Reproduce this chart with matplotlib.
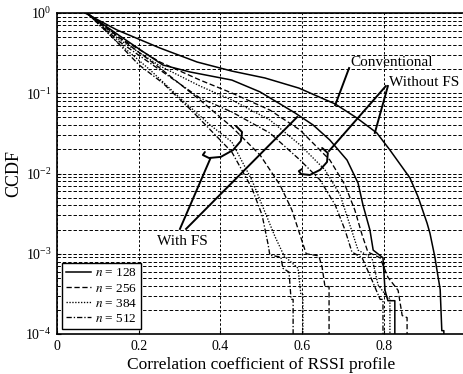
import matplotlib
matplotlib.use("Agg")
import matplotlib.pyplot as plt
from matplotlib.ticker import FixedLocator, LogLocator, NullFormatter

plt.rcParams["font.family"] = ["Liberation Serif", "DejaVu Serif"]
plt.rcParams["mathtext.fontset"] = "stix"

# Conventional (= Without FS, n = 128)
conv_x = [0.0685, 0.147, 0.252, 0.343, 0.428, 0.509, 0.592, 0.681, 0.734, 0.783,
          0.815, 0.864, 0.884, 0.906, 0.913, 0.925, 0.933, 0.938, 0.942, 0.947, 0.947]
conv_y = [1.0, 0.614, 0.366, 0.245, 0.189, 0.155, 0.116, 0.0735, 0.0492, 0.032,
          0.0196, 0.0088, 0.0051, 0.0024, 0.0018, 0.00091, 0.00051, 0.00036, 0.00011, 0.00011, 0.00005]

# With FS, n = 128
w128_x = [0.073, 0.154, 0.259, 0.326, 0.428, 0.497, 0.583, 0.627, 0.668, 0.710, 0.737,
          0.749, 0.766, 0.774, 0.798, 0.803, 0.810, 0.827, 0.827]
w128_y = [1.0, 0.517, 0.225, 0.184, 0.146, 0.104, 0.0567, 0.0402, 0.0261, 0.0147, 0.0076,
          0.00405, 0.00198, 0.00111, 0.00089, 0.00035, 0.00026, 0.00026, 0.00005]

# Without FS, n = 256 / 384 / 512
wo256_x = [0.073, 0.154, 0.252, 0.350, 0.428, 0.521, 0.595, 0.668, 0.705, 0.729, 0.747,
           0.761, 0.791, 0.810, 0.835, 0.845, 0.857, 0.857]
wo256_y = [1.0, 0.488, 0.245, 0.146, 0.1007, 0.0618, 0.0348, 0.0147, 0.00719, 0.00351, 0.00171,
           0.00105, 0.00089, 0.00051, 0.00035, 0.00017, 0.00016, 0.00005]
wo384_x = [0.073, 0.154, 0.252, 0.350, 0.428, 0.521, 0.595, 0.656, 0.693, 0.717, 0.737,
           0.771, 0.786, 0.810, 0.815, 0.815]
wo384_y = [1.0, 0.461, 0.219, 0.123, 0.0824, 0.0465, 0.0227, 0.0111, 0.0054, 0.00228, 0.00111,
           0.00089, 0.00041, 0.00028, 0.00028, 0.00005]
wo512_x = [0.073, 0.154, 0.252, 0.350, 0.428, 0.521, 0.595, 0.644, 0.681, 0.705, 0.722,
           0.747, 0.771, 0.791, 0.798, 0.798]
wo512_y = [1.0, 0.435, 0.195, 0.0873, 0.0584, 0.0320, 0.0147, 0.0083, 0.00405, 0.00198, 0.00105,
           0.00089, 0.00047, 0.00027, 0.00027, 0.00005]

# With FS, n = 256 / 384 / 512
w256_x = [0.073, 0.154, 0.252, 0.350, 0.428, 0.497, 0.546, 0.575, 0.595, 0.610, 0.641,
          0.649, 0.656, 0.666, 0.666]
w256_y = [1.0, 0.488, 0.206, 0.0824, 0.038, 0.017, 0.00719, 0.00351, 0.00171, 0.001, 0.00094,
          0.00068, 0.00039, 0.00039, 0.00005]
w384_x = [0.073, 0.142, 0.228, 0.301, 0.375, 0.428, 0.477, 0.509, 0.534, 0.556, 0.590,
          0.597, 0.602, 0.602]
w384_y = [1.0, 0.461, 0.195, 0.0873, 0.0402, 0.0247, 0.0083, 0.00331, 0.00162, 0.00094, 0.00066,
          0.00031, 0.00031, 0.00005]
w512_x = [0.073, 0.130, 0.201, 0.259, 0.333, 0.428, 0.477, 0.502, 0.517, 0.521, 0.548,
          0.553, 0.568, 0.573, 0.578, 0.578]
w512_y = [1.0, 0.532, 0.225, 0.134, 0.0584, 0.0185, 0.00659, 0.00304, 0.00129, 0.00096, 0.00091,
          0.00066, 0.00059, 0.00027, 0.00027, 0.00005]

n_labels = ["$n$ = 128", "$n$ = 256", "$n$ = 384", "$n$ = 512"]
x_ticks = [0, 0.2, 0.4, 0.6, 0.8]
x_tick_labels = ["0", "0.2", "0.4", "0.6", "0.8"]

SOLID = "-"
DASHED = (0, (4, 2))
DOTTED = (0, (1, 1.2))
DASHDOT = (0, (4, 1.5, 1, 1.5))

fig = plt.figure(figsize=(4.64, 3.74), dpi=100)
ax = fig.add_axes([57 / 464, 40 / 374, 408.5 / 464, 321 / 374])

lw = 0.95
ax.plot(conv_x, conv_y, color="k", lw=1.1, ls=SOLID, label=n_labels[0])
ax.plot(w128_x, w128_y, color="k", lw=1.1, ls=SOLID)
ax.plot(wo256_x, wo256_y, color="k", lw=lw, ls=DASHED, label=n_labels[1])
ax.plot(wo384_x, wo384_y, color="k", lw=lw, ls=DOTTED, label=n_labels[2])
ax.plot(wo512_x, wo512_y, color="k", lw=lw, ls=DASHDOT, label=n_labels[3])
ax.plot(w256_x, w256_y, color="k", lw=lw, ls=DASHED)
ax.plot(w384_x, w384_y, color="k", lw=lw, ls=DOTTED)
ax.plot(w512_x, w512_y, color="k", lw=lw, ls=DASHDOT)

ax.set_yscale("log")
ax.set_xlim(0, 1)
ax.set_ylim(1e-4, 1)
ax.xaxis.set_major_locator(FixedLocator(x_ticks))
ax.set_xticklabels(x_tick_labels)
ax.yaxis.set_major_locator(LogLocator(base=10, numticks=10))
ax.yaxis.set_minor_locator(LogLocator(base=10, subs=range(2, 10), numticks=10))
ax.yaxis.set_minor_formatter(NullFormatter())
ax.tick_params(which="major", direction="in", length=3, width=0.8, labelsize=10, pad=4)
ax.tick_params(which="minor", length=0)

grid_ls = (0, (3.5, 2))
ax.grid(True, which="both", axis="y", color="k", lw=0.7, ls=grid_ls)
ax.grid(True, which="major", axis="x", color="k", lw=0.7, ls=(0, (2.5, 2)))
ax.set_axisbelow(True)
for side in ["left", "bottom", "top"]:
    ax.spines[side].set_linewidth(1.2)
ax.spines["right"].set_visible(False)

ax.set_xlabel("Correlation coefficient of RSSI profile", fontsize=12.5, labelpad=3)
ax.set_ylabel("CCDF", fontsize=13, labelpad=2)

leg = ax.legend(loc="lower left", bbox_to_anchor=(0.012, 0.016), borderaxespad=0,
                fontsize=9.5, handlelength=1.9, handletextpad=0.3, labelspacing=0.22,
                borderpad=0.3, fancybox=False, framealpha=1, edgecolor="k")
leg.get_frame().set_linewidth(1.0)

# annotations
alw = 1.4
ax.text(0.717, 0.245, "Conventional", fontsize=11, ha="left", va="center")
ax.plot([0.715, 0.681], [0.206, 0.071], color="k", lw=alw)

ax.text(0.813, 0.138, "Without FS", fontsize=11, ha="left", va="center")
ax.plot([0.810, 0.778], [0.123, 0.032], color="k", lw=alw)
ax.plot([0.805, 0.666], [0.123, 0.0191], color="k", lw=alw)
hook_wo_x = [0.649, 0.663, 0.661, 0.644, 0.619, 0.597, 0.592, 0.600]
hook_wo_y = [0.0208, 0.0180, 0.0139, 0.0111, 0.00958, 0.00986, 0.0107, 0.0114]
ax.plot(hook_wo_x, hook_wo_y, color="k", lw=alw, solid_joinstyle="round", solid_capstyle="round")

ax.text(0.245, 0.00144, "With FS", fontsize=11, ha="left", va="center")
ax.plot([0.301, 0.375], [0.00204, 0.0152], color="k", lw=alw)
ax.plot([0.316, 0.588], [0.00204, 0.0506], color="k", lw=alw)
hook_w_x = [0.438, 0.453, 0.450, 0.431, 0.401, 0.372, 0.357, 0.362]
hook_w_y = [0.0391, 0.0329, 0.0254, 0.0196, 0.0161, 0.0156, 0.0170, 0.0185]
ax.plot(hook_w_x, hook_w_y, color="k", lw=alw, solid_joinstyle="round", solid_capstyle="round")

fig.savefig("out.png", dpi=100)
